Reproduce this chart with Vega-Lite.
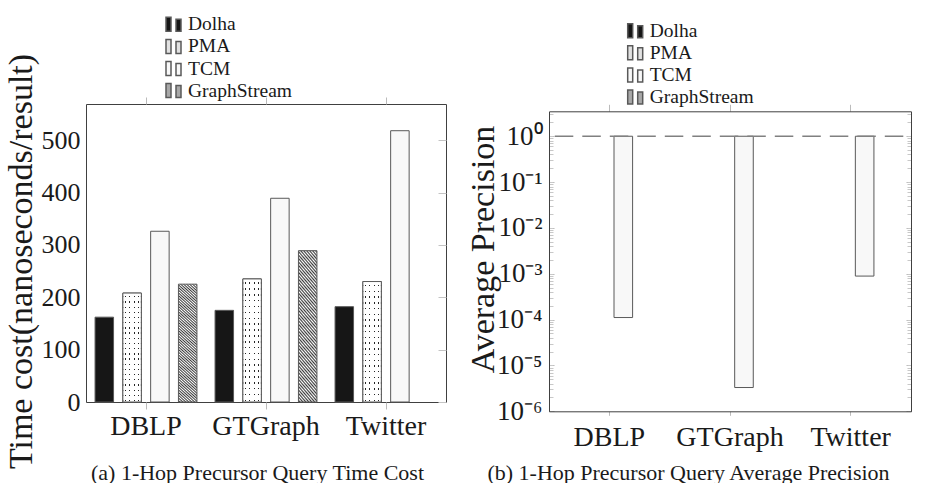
{
  "$schema": "https://vega.github.io/schema/vega-lite/v6.json",
  "padding": {"left": 3, "top": 12, "right": 5, "bottom": 0},
  "spacing": 18,
  "config": {
    "view": {"stroke": "#404040", "strokeWidth": 1},
    "font": "Liberation Serif",
    "axis": {"labelFont": "Liberation Serif", "titleFont": "Liberation Serif", "labelColor": "#1a1a1a", "titleColor": "#1a1a1a", "titleFontWeight": "normal"},
    "legend": {"labelFont": "Liberation Serif", "labelColor": "#1a1a1a"}
  },
  "datasets": {
    "time": [
      {"dataset": "DBLP", "method": "Dolha", "cost": 162},
      {"dataset": "DBLP", "method": "PMA", "cost": 208},
      {"dataset": "DBLP", "method": "TCM", "cost": 326},
      {"dataset": "DBLP", "method": "GraphStream", "cost": 225},
      {"dataset": "GTGraph", "method": "Dolha", "cost": 175},
      {"dataset": "GTGraph", "method": "PMA", "cost": 235},
      {"dataset": "GTGraph", "method": "TCM", "cost": 389},
      {"dataset": "GTGraph", "method": "GraphStream", "cost": 289},
      {"dataset": "Twitter", "method": "Dolha", "cost": 182},
      {"dataset": "Twitter", "method": "PMA", "cost": 230},
      {"dataset": "Twitter", "method": "TCM", "cost": 518}
    ],
    "precision": [
      {"dataset": "DBLP", "method": "TCM", "precision": 0.000111},
      {"dataset": "GTGraph", "method": "TCM", "precision": 0.0000033},
      {"dataset": "Twitter", "method": "TCM", "precision": 0.00089}
    ]
  },
  "resolve": {"scale": {"fill": "independent", "xOffset": "independent"}, "legend": {"fill": "independent"}},
  "hconcat": [
    {
      "width": 360,
      "height": 298,
      "data": {"name": "time"},
      "layer": [
        {
          "transform": [{"filter": "datum.method === 'Dolha' || datum.method === 'TCM'"}],
          "mark": {"type": "bar", "stroke": "#595959", "strokeWidth": 1},
          "encoding": {
            "x": {"field": "dataset", "type": "nominal", "sort": ["DBLP", "GTGraph", "Twitter"], "scale": {"domain": ["DBLP", "GTGraph", "Twitter"], "paddingInner": 0, "paddingOuter": 0},
              "axis": {"orient": "bottom", "title": "(a) 1-Hop Precursor Query Time Cost", "titleFontSize": 22, "titleX": 171, "titleY": 77, "titleBaseline": "alphabetic", "titleAlign": "center",
                "labelAngle": 0, "labelFontSize": 28, "tickSize": 7, "tickColor": "#bbbbbb", "domain": false, "labelPadding": 3}},
            "xOffset": {"field": "method", "type": "nominal", "scale": {"domain": ["Dolha", "PMA", "TCM", "GraphStream"], "paddingInner": 0.335, "paddingOuter": 0.326}},
            "y": {"field": "cost", "type": "quantitative", "scale": {"domain": [0, 569], "nice": false},
              "axis": {"orient": "left", "title": "Time cost(nanoseconds/result)", "titleFontSize": 34, "titleX": -55, "titleY": 157, "titleBaseline": "alphabetic", "values": [0, 100, 200, 300, 400, 500], "labelFontSize": 26, "ticks": false, "labelPadding": 6, "domain": false, "grid": true, "gridColor": "#c4c4c4", "gridDash": [0, 352, 8]}},
            "fill": {"field": "method", "type": "nominal",
              "scale": {"domain": ["Dolha", "PMA", "TCM", "GraphStream"], "range": ["#161616", "#e2e2e2", "#f8f8f8", "#a8a8a8"]},
              "legend": {"orient": "none", "legendX": 79, "legendY": -90.7, "title": null, "direction": "vertical", "padding": 0, "symbolType": "M-1,-0.7H-0.5V0.7H-1Z M0,-0.5H0.5V0.7H0Z", "symbolSize": 400, "labelFontSize": 19.5, "labelOffset": 1, "rowPadding": 1.1,
                "encode": {"symbols": {"stroke": {"value": "#444444"}, "strokeWidth": {"value": 0.8}}}}}
          }
        },
        {
          "transform": [{"filter": "datum.method === 'PMA'"}],
          "mark": {"type": "bar", "stroke": "#595959", "strokeWidth": 1,
            "fill": {"gradient": "linear", "x1": 0, "y1": 0, "x2": 1, "y2": 0, "stops": [{"offset": 0, "color": "#ffffff"}, {"offset": 0.1, "color": "#ffffff"}, {"offset": 0.1, "color": "#262626"}, {"offset": 0.17, "color": "#262626"}, {"offset": 0.17, "color": "#ffffff"}, {"offset": 0.34, "color": "#ffffff"}, {"offset": 0.34, "color": "#262626"}, {"offset": 0.41, "color": "#262626"}, {"offset": 0.41, "color": "#ffffff"}, {"offset": 0.58, "color": "#ffffff"}, {"offset": 0.58, "color": "#262626"}, {"offset": 0.65, "color": "#262626"}, {"offset": 0.65, "color": "#ffffff"}, {"offset": 0.82, "color": "#ffffff"}, {"offset": 0.82, "color": "#262626"}, {"offset": 0.89, "color": "#262626"}, {"offset": 0.89, "color": "#ffffff"}, {"offset": 1, "color": "#ffffff"}]}},
          "encoding": {
            "x": {"field": "dataset", "type": "nominal", "sort": ["DBLP", "GTGraph", "Twitter"],
              "axis": {"orient": "top", "title": null, "labels": false, "tickSize": 7, "tickColor": "#bbbbbb", "domain": false}},
            "xOffset": {"field": "method", "type": "nominal"},
            "y": {"field": "cost", "type": "quantitative", "axis": null}
          }
        },
        {
          "transform": [{"filter": "datum.method === 'PMA'"}],
          "mark": {"type": "bar", "stroke": "#595959", "strokeWidth": 1,
            "fill": {"gradient": "linear", "x1": 0, "y1": 0, "x2": 0, "y2": 1, "stops": [
              {"offset":0,"color":"#ffffff"},
              {"offset":0.0286,"color":"#ffffff"},{"offset":0.0286,"color":"rgba(255,255,255,0)"},{"offset":0.0405,"color":"rgba(255,255,255,0)"},{"offset":0.0405,"color":"#ffffff"},
              {"offset":0.0762,"color":"#ffffff"},{"offset":0.0762,"color":"rgba(255,255,255,0)"},{"offset":0.0881,"color":"rgba(255,255,255,0)"},{"offset":0.0881,"color":"#ffffff"},
              {"offset":0.1238,"color":"#ffffff"},{"offset":0.1238,"color":"rgba(255,255,255,0)"},{"offset":0.1357,"color":"rgba(255,255,255,0)"},{"offset":0.1357,"color":"#ffffff"},
              {"offset":0.1714,"color":"#ffffff"},{"offset":0.1714,"color":"rgba(255,255,255,0)"},{"offset":0.1833,"color":"rgba(255,255,255,0)"},{"offset":0.1833,"color":"#ffffff"},
              {"offset":0.219,"color":"#ffffff"},{"offset":0.219,"color":"rgba(255,255,255,0)"},{"offset":0.231,"color":"rgba(255,255,255,0)"},{"offset":0.231,"color":"#ffffff"},
              {"offset":0.2667,"color":"#ffffff"},{"offset":0.2667,"color":"rgba(255,255,255,0)"},{"offset":0.2786,"color":"rgba(255,255,255,0)"},{"offset":0.2786,"color":"#ffffff"},
              {"offset":0.3143,"color":"#ffffff"},{"offset":0.3143,"color":"rgba(255,255,255,0)"},{"offset":0.3262,"color":"rgba(255,255,255,0)"},{"offset":0.3262,"color":"#ffffff"},
              {"offset":0.3619,"color":"#ffffff"},{"offset":0.3619,"color":"rgba(255,255,255,0)"},{"offset":0.3738,"color":"rgba(255,255,255,0)"},{"offset":0.3738,"color":"#ffffff"},
              {"offset":0.4095,"color":"#ffffff"},{"offset":0.4095,"color":"rgba(255,255,255,0)"},{"offset":0.4214,"color":"rgba(255,255,255,0)"},{"offset":0.4214,"color":"#ffffff"},
              {"offset":0.4571,"color":"#ffffff"},{"offset":0.4571,"color":"rgba(255,255,255,0)"},{"offset":0.469,"color":"rgba(255,255,255,0)"},{"offset":0.469,"color":"#ffffff"},
              {"offset":0.5048,"color":"#ffffff"},{"offset":0.5048,"color":"rgba(255,255,255,0)"},{"offset":0.5167,"color":"rgba(255,255,255,0)"},{"offset":0.5167,"color":"#ffffff"},
              {"offset":0.5524,"color":"#ffffff"},{"offset":0.5524,"color":"rgba(255,255,255,0)"},{"offset":0.5643,"color":"rgba(255,255,255,0)"},{"offset":0.5643,"color":"#ffffff"},
              {"offset":0.6,"color":"#ffffff"},{"offset":0.6,"color":"rgba(255,255,255,0)"},{"offset":0.6119,"color":"rgba(255,255,255,0)"},{"offset":0.6119,"color":"#ffffff"},
              {"offset":0.6476,"color":"#ffffff"},{"offset":0.6476,"color":"rgba(255,255,255,0)"},{"offset":0.6595,"color":"rgba(255,255,255,0)"},{"offset":0.6595,"color":"#ffffff"},
              {"offset":0.6952,"color":"#ffffff"},{"offset":0.6952,"color":"rgba(255,255,255,0)"},{"offset":0.7071,"color":"rgba(255,255,255,0)"},{"offset":0.7071,"color":"#ffffff"},
              {"offset":0.7429,"color":"#ffffff"},{"offset":0.7429,"color":"rgba(255,255,255,0)"},{"offset":0.7548,"color":"rgba(255,255,255,0)"},{"offset":0.7548,"color":"#ffffff"},
              {"offset":0.7905,"color":"#ffffff"},{"offset":0.7905,"color":"rgba(255,255,255,0)"},{"offset":0.8024,"color":"rgba(255,255,255,0)"},{"offset":0.8024,"color":"#ffffff"},
              {"offset":0.8381,"color":"#ffffff"},{"offset":0.8381,"color":"rgba(255,255,255,0)"},{"offset":0.85,"color":"rgba(255,255,255,0)"},{"offset":0.85,"color":"#ffffff"},
              {"offset":0.8857,"color":"#ffffff"},{"offset":0.8857,"color":"rgba(255,255,255,0)"},{"offset":0.8976,"color":"rgba(255,255,255,0)"},{"offset":0.8976,"color":"#ffffff"},
              {"offset":0.9333,"color":"#ffffff"},{"offset":0.9333,"color":"rgba(255,255,255,0)"},{"offset":0.9452,"color":"rgba(255,255,255,0)"},{"offset":0.9452,"color":"#ffffff"},
              {"offset":0.981,"color":"#ffffff"},{"offset":0.981,"color":"rgba(255,255,255,0)"},{"offset":0.9929,"color":"rgba(255,255,255,0)"},{"offset":0.9929,"color":"#ffffff"},
              {"offset":1,"color":"#ffffff"}]}},
          "encoding": {
            "x": {"field": "dataset", "type": "nominal", "sort": ["DBLP", "GTGraph", "Twitter"], "axis": null},
            "xOffset": {"field": "method", "type": "nominal"},
            "y": {"field": "cost", "type": "quantitative", "axis": null}
          }
        },
        {
          "transform": [{"filter": "datum.method === 'GraphStream'"}],
          "mark": {"type": "bar", "stroke": "#595959", "strokeWidth": 1,
            "fill": {"gradient": "linear", "x1": 0, "y1": 1, "x2": 0.16, "y2": -0.12, "stops": [{"offset":0,"color":"#ffffff"},{"offset":0.01,"color":"#3a3a3a"},{"offset":0.02,"color":"#ffffff"},{"offset":0.03,"color":"#3a3a3a"},{"offset":0.04,"color":"#ffffff"},{"offset":0.05,"color":"#3a3a3a"},{"offset":0.06,"color":"#ffffff"},{"offset":0.07,"color":"#3a3a3a"},{"offset":0.08,"color":"#ffffff"},{"offset":0.09,"color":"#3a3a3a"},{"offset":0.1,"color":"#ffffff"},{"offset":0.11,"color":"#3a3a3a"},{"offset":0.12,"color":"#ffffff"},{"offset":0.13,"color":"#3a3a3a"},{"offset":0.14,"color":"#ffffff"},{"offset":0.15,"color":"#3a3a3a"},{"offset":0.16,"color":"#ffffff"},{"offset":0.17,"color":"#3a3a3a"},{"offset":0.18,"color":"#ffffff"},{"offset":0.19,"color":"#3a3a3a"},{"offset":0.2,"color":"#ffffff"},{"offset":0.21,"color":"#3a3a3a"},{"offset":0.22,"color":"#ffffff"},{"offset":0.23,"color":"#3a3a3a"},{"offset":0.24,"color":"#ffffff"},{"offset":0.25,"color":"#3a3a3a"},{"offset":0.26,"color":"#ffffff"},{"offset":0.27,"color":"#3a3a3a"},{"offset":0.28,"color":"#ffffff"},{"offset":0.29,"color":"#3a3a3a"},{"offset":0.3,"color":"#ffffff"},{"offset":0.31,"color":"#3a3a3a"},{"offset":0.32,"color":"#ffffff"},{"offset":0.33,"color":"#3a3a3a"},{"offset":0.34,"color":"#ffffff"},{"offset":0.35,"color":"#3a3a3a"},{"offset":0.36,"color":"#ffffff"},{"offset":0.37,"color":"#3a3a3a"},{"offset":0.38,"color":"#ffffff"},{"offset":0.39,"color":"#3a3a3a"},{"offset":0.4,"color":"#ffffff"},{"offset":0.41,"color":"#3a3a3a"},{"offset":0.42,"color":"#ffffff"},{"offset":0.43,"color":"#3a3a3a"},{"offset":0.44,"color":"#ffffff"},{"offset":0.45,"color":"#3a3a3a"},{"offset":0.46,"color":"#ffffff"},{"offset":0.47,"color":"#3a3a3a"},{"offset":0.48,"color":"#ffffff"},{"offset":0.49,"color":"#3a3a3a"},{"offset":0.5,"color":"#ffffff"},{"offset":0.51,"color":"#3a3a3a"},{"offset":0.52,"color":"#ffffff"},{"offset":0.53,"color":"#3a3a3a"},{"offset":0.54,"color":"#ffffff"},{"offset":0.55,"color":"#3a3a3a"},{"offset":0.56,"color":"#ffffff"},{"offset":0.57,"color":"#3a3a3a"},{"offset":0.58,"color":"#ffffff"},{"offset":0.59,"color":"#3a3a3a"},{"offset":0.6,"color":"#ffffff"},{"offset":0.61,"color":"#3a3a3a"},{"offset":0.62,"color":"#ffffff"},{"offset":0.63,"color":"#3a3a3a"},{"offset":0.64,"color":"#ffffff"},{"offset":0.65,"color":"#3a3a3a"},{"offset":0.66,"color":"#ffffff"},{"offset":0.67,"color":"#3a3a3a"},{"offset":0.68,"color":"#ffffff"},{"offset":0.69,"color":"#3a3a3a"},{"offset":0.7,"color":"#ffffff"},{"offset":0.71,"color":"#3a3a3a"},{"offset":0.72,"color":"#ffffff"},{"offset":0.73,"color":"#3a3a3a"},{"offset":0.74,"color":"#ffffff"},{"offset":0.75,"color":"#3a3a3a"},{"offset":0.76,"color":"#ffffff"},{"offset":0.77,"color":"#3a3a3a"},{"offset":0.78,"color":"#ffffff"},{"offset":0.79,"color":"#3a3a3a"},{"offset":0.8,"color":"#ffffff"},{"offset":0.81,"color":"#3a3a3a"},{"offset":0.82,"color":"#ffffff"},{"offset":0.83,"color":"#3a3a3a"},{"offset":0.84,"color":"#ffffff"},{"offset":0.85,"color":"#3a3a3a"},{"offset":0.86,"color":"#ffffff"},{"offset":0.87,"color":"#3a3a3a"},{"offset":0.88,"color":"#ffffff"},{"offset":0.89,"color":"#3a3a3a"},{"offset":0.9,"color":"#ffffff"},{"offset":0.91,"color":"#3a3a3a"},{"offset":0.92,"color":"#ffffff"},{"offset":0.93,"color":"#3a3a3a"},{"offset":0.94,"color":"#ffffff"},{"offset":0.95,"color":"#3a3a3a"},{"offset":0.96,"color":"#ffffff"},{"offset":0.97,"color":"#3a3a3a"},{"offset":0.98,"color":"#ffffff"},{"offset":0.99,"color":"#3a3a3a"},{"offset":1,"color":"#ffffff"}]}},
          "encoding": {
            "x": {"field": "dataset", "type": "nominal", "sort": ["DBLP", "GTGraph", "Twitter"], "axis": null},
            "xOffset": {"field": "method", "type": "nominal"},
            "y": {"field": "cost", "type": "quantitative", "axis": null}
          }
        }
      ],
      "resolve": {"axis": {"x": "independent", "y": "independent"}}
    },
    {
      "width": 362,
      "height": 307.3,
      "view": {"stroke": null},
      "data": {"name": "precision"},
      "layer": [
        {
          "mark": {"type": "bar", "stroke": "#595959", "strokeWidth": 1},
          "encoding": {
            "x": {"field": "dataset", "type": "nominal", "sort": ["DBLP", "GTGraph", "Twitter"], "scale": {"domain": ["DBLP", "GTGraph", "Twitter"], "paddingInner": 0, "paddingOuter": 0},
              "axis": {"orient": "bottom", "title": "(b) 1-Hop Precursor Query Average Precision", "titleFontSize": 22, "titleX": 139, "titleY": 68, "titleBaseline": "alphabetic", "titleAlign": "center",
                "labelAngle": 0, "labelFontSize": 28, "tickSize": 4, "tickColor": "#bbbbbb", "domain": true, "domainColor": "#404040", "domainWidth": 1, "labelPadding": 8}},
            "xOffset": {"field": "method", "type": "nominal", "scale": {"domain": ["Dolha", "PMA", "TCM", "GraphStream"], "paddingInner": 0.335, "paddingOuter": 0.326}},
            "y": {"field": "precision", "type": "quantitative", "scale": {"type": "log", "domain": [0.000001, 3.5], "nice": false, "range": [307.3, 7.3]},
              "axis": {"orient": "left", "title": "Average Precision", "titleFontSize": 34, "titleX": -56, "titleY": 145, "titleBaseline": "alphabetic",
                "values": [0.000001, 0.00001, 0.0001, 0.001, 0.01, 0.1, 1],
                "labelExpr": "'10' + (datum.value < 0.5 ? '⁻' : '') + ['⁰','¹','²','³','⁴','⁵','⁶'][round(abs(log(datum.value)/LN10))]",
                "labelFontSize": 27, "ticks": false, "labelPadding": 7, "domain": true, "domainColor": "#404040", "domainWidth": 1, "grid": true, "gridColor": "#b8b8b8", "gridDash": [5, 352, 5]}},
            "y2": {"datum": 1},
            "fill": {"field": "method", "type": "nominal",
              "scale": {"domain": ["Dolha", "PMA", "TCM", "GraphStream"], "range": ["#161616", "#e2e2e2", "#f8f8f8", "#a8a8a8"]},
              "legend": {"orient": "none", "legendX": 77.7, "legendY": -84.3, "title": null, "direction": "vertical", "padding": 0, "symbolType": "M-1,-0.7H-0.5V0.7H-1Z M0,-0.5H0.5V0.7H0Z", "symbolSize": 400, "labelFontSize": 19.5, "labelOffset": 1, "rowPadding": 1.1,
                "encode": {"symbols": {"stroke": {"value": "#444444"}, "strokeWidth": {"value": 0.8}}}}}
          }
        },
        {
          "data": {"values": [{"reference": 1}]},
          "mark": {"type": "rule", "strokeDash": [18.5, 9], "strokeDashOffset": 19.8, "color": "#808080", "strokeWidth": 1.3},
          "encoding": {
            "y": {"field": "reference", "type": "quantitative",
              "axis": {"orient": "right", "title": null, "labels": false, "ticks": false, "domain": true, "domainColor": "#404040", "domainWidth": 1, "grid": true, "gridColor": "#c8c8c8", "gridDash": [4, 354, 4], "tickCount": 60}}
          }
        },
        {
          "mark": {"type": "bar", "opacity": 0},
          "encoding": {
            "x": {"field": "dataset", "type": "nominal", "sort": ["DBLP", "GTGraph", "Twitter"],
              "axis": {"orient": "top", "offset": -7.3, "title": null, "labels": false, "tickSize": 7, "tickColor": "#bbbbbb", "domain": true, "domainColor": "#404040", "domainWidth": 1}},
            "xOffset": {"field": "method", "type": "nominal"},
            "y": {"field": "precision", "type": "quantitative", "axis": null},
            "y2": {"datum": 1}
          }
        }
      ],
      "resolve": {"axis": {"x": "independent", "y": "independent"}}
    }
  ]
}
